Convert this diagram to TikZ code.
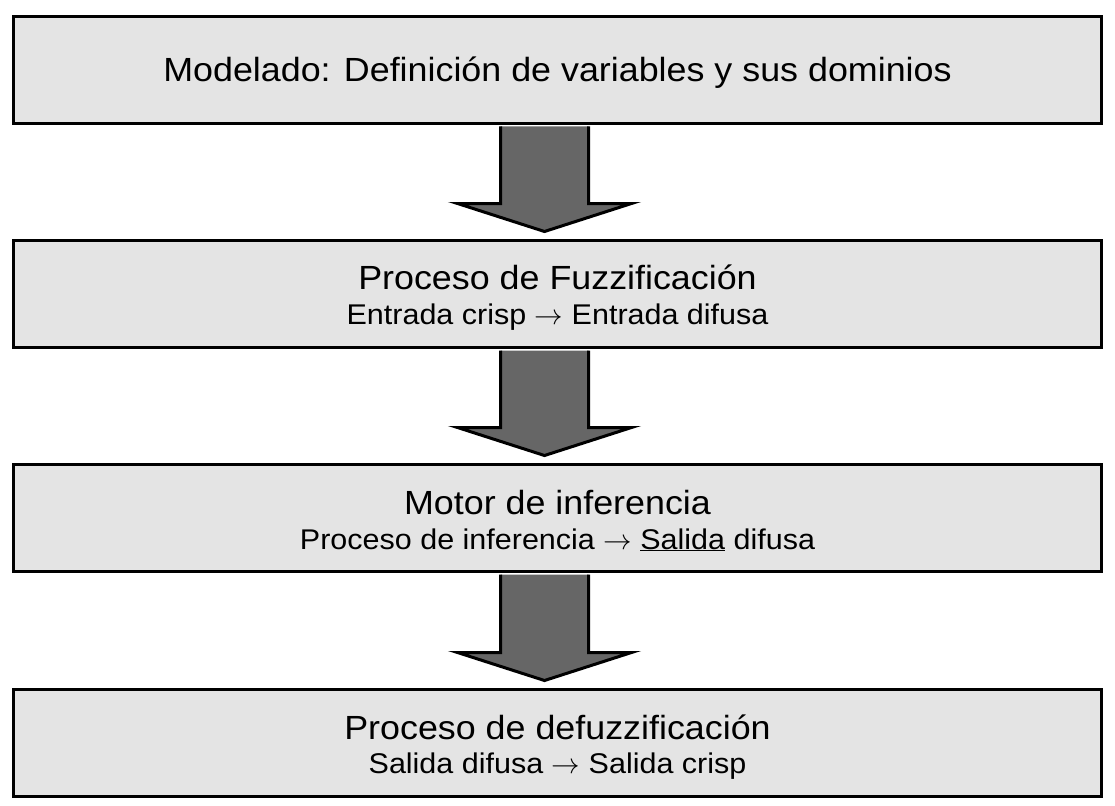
\RequirePackage{fix-cm}
\documentclass[tikz,border=0pt]{standalone}
\usepackage{fontspec}
\setmainfont{Liberation Sans}[FakeStretch=1.07]
\usetikzlibrary{calc}
\definecolor{cajagris}{HTML}{E4E4E4}
\definecolor{flechagris}{HTML}{666666}
\tikzset{
	etapa/.style={draw, line width=3pt, fill=cajagris, minimum width=1088pt, minimum height=107pt, inner sep=0pt},
	titulo/.style={anchor=base, inner sep=0pt, font=\fontsize{33.5}{38}\selectfont},
	detalle/.style={anchor=base, inner sep=0pt, font=\fontsize{28.5}{33}\selectfont},
	flecha/.style={draw, line width=3pt, fill=flechagris, line join=miter}
}
\begin{document}
\begin{tikzpicture}[x=1pt, y=-1pt]
		\useasboundingbox (0,0) rectangle (1115,805);
		% etapas
		\node[etapa] (mod) at (557.5,70) {};
		\node[etapa] (fuz) at (557.5,294) {};
		\node[etapa] (inf) at (557.5,518) {};
		\node[etapa] (def) at (557.5,743) {};
		% flechas
		\foreach \a/\b in {mod/fuz, fuz/inf, inf/def}
		\draw[flecha] ($(\a.south)+(-57,1.5)$) -- ($(\b.north)+(-57,-35.5)$) -- ($(\b.north)+(-100,-35.5)$)
			-- ($(\b.north)+(-13,-7.5)$) -- ($(\b.north)+(74,-35.5)$) -- ($(\b.north)+(31,-35.5)$) -- ($(\a.south)+(31,1.5)$);
		% textos
		\node[titulo] (modt) at ($(mod.center)+(0,12)$) {Modelado: Definición de variables y sus dominios};
		\node[titulo] (fuzt) at ($(fuz.center)+(0,-5)$) {Proceso de Fuzzificación};
		\node[detalle] (fuzd) at ($(fuz.center)+(0,30)$) {Entrada crisp $\rightarrow$ Entrada difusa};
		\node[titulo] (inft) at ($(inf.center)+(0,-4)$) {Motor de inferencia};
		\node[detalle] (infd) at ($(inf.center)+(0,31)$) {Proceso de inferencia $\rightarrow$ \underline{Salida} difusa};
		\node[titulo] (deft) at ($(def.center)+(0,-4)$) {Proceso de defuzzificación};
		\node[detalle] (defd) at ($(def.center)+(0,30)$) {Salida difusa $\rightarrow$ Salida crisp};
\end{tikzpicture}
\end{document}
